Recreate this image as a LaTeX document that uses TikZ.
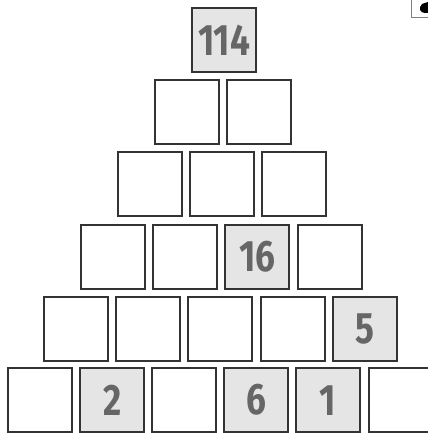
\documentclass[tikz,border=0pt]{standalone}
\usepackage{fontspec}
\setmainfont{Fira Sans}
\begin{document}
\begin{tikzpicture}[x=1pt,y=-1pt,
  cell/.style={draw=black!80, line width=2.3pt, minimum width=64pt, minimum height=64pt, inner sep=0pt, anchor=north west, fill=white},
  given/.style={cell, fill=black!10, text=black!60, font=\fontsize{44}{44}\selectfont\bfseries},
]
\useasboundingbox (0,0) rectangle (427,435);
% row 0
\node[given] (r0c0) at (191,7) {\scalebox{0.8}[1]{114}};
% row 1
\node[cell] (r1c0) at (154,79) {};
\node[cell] (r1c1) at (226,79) {};
% row 2
\node[cell] (r2c0) at (117,151) {};
\node[cell] (r2c1) at (189,151) {};
\node[cell] (r2c2) at (261,151) {};
% row 3
\node[cell] (r3c0) at (80,224) {};
\node[cell] (r3c1) at (152,224) {};
\node[given] (r3c2) at (224,224) {\scalebox{0.8}[1]{16}};
\node[cell] (r3c3) at (297,224) {};
% row 4
\node[cell] (r4c0) at (43,296) {};
\node[cell] (r4c1) at (115,296) {};
\node[cell] (r4c2) at (187,296) {};
\node[cell] (r4c3) at (260,296) {};
\node[given] (r4c4) at (332,296) {\scalebox{0.8}[1]{5}};
% row 5
\node[cell] (r5c0) at (7,367) {};
\node[given] (r5c1) at (79,367) {\scalebox{0.8}[1]{2}};
\node[cell] (r5c2) at (151,367) {};
\node[given] (r5c3) at (223,367) {\scalebox{0.8}[1]{6}};
\node[given] (r5c4) at (295,367) {\scalebox{0.8}[1]{1}};
\node[cell] (r5c5) at (368,367) {};
% corner fragment
\draw[black!50, line width=0.6pt] (411,-1) -- (411,17) -- (428,17);
\fill[black] (422,4) .. controls (418,8) and (420,13) .. (425,13) -- (428,13) -- (428,2) -- cycle;
\end{tikzpicture}
\end{document}
